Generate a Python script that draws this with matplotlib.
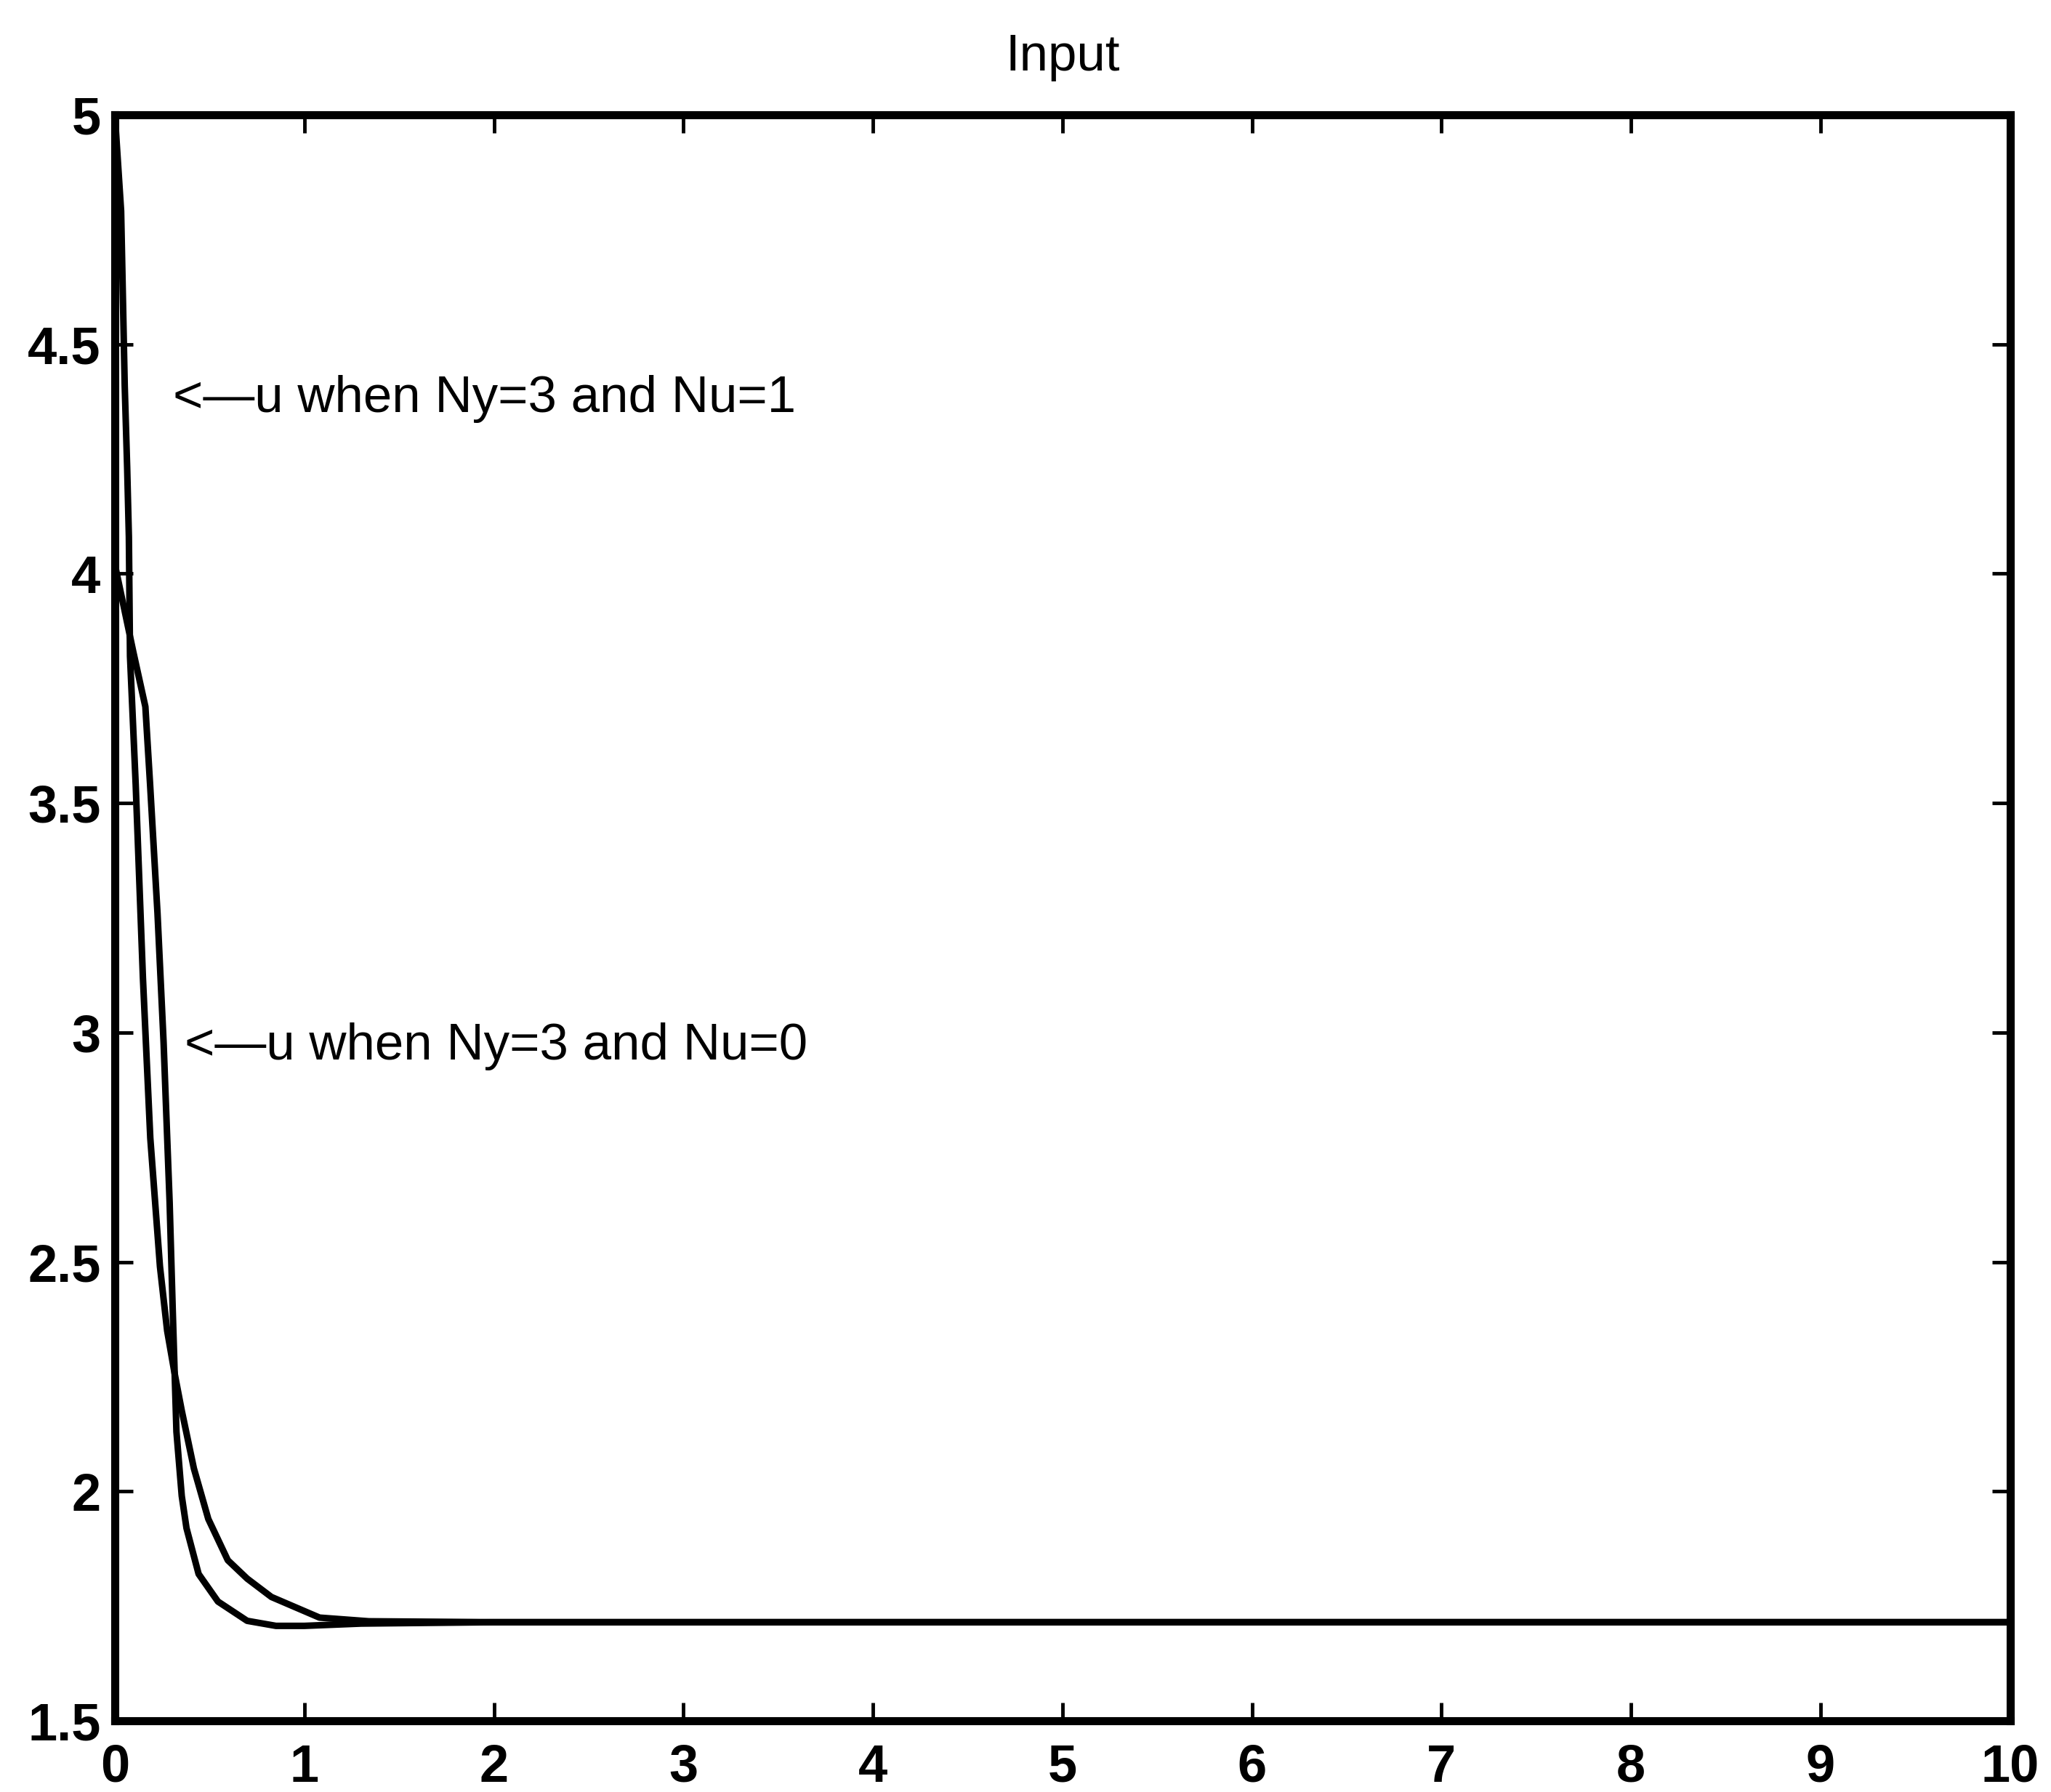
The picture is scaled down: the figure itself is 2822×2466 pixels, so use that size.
import matplotlib
matplotlib.use("Agg")
import matplotlib.pyplot as plt
from matplotlib import font_manager

# u when Ny=3 and Nu=1 (starts at 5)
t_nu1 = [0.0, 0.033, 0.052, 0.065, 0.074, 0.08, 0.11, 0.148, 0.187, 0.238,
         0.276, 0.314, 0.353, 0.417, 0.493, 0.596, 0.698, 0.826, 1.08, 1.34, 2.0, 10.0]
u_nu1 = [5.0, 4.79, 4.41, 4.23, 4.08, 3.82, 3.54, 3.12, 2.77, 2.49,
         2.35, 2.26, 2.176, 2.05, 1.94, 1.85, 1.81, 1.77, 1.725, 1.717, 1.715, 1.715]

# u when Ny=3 and Nu=0 (starts near 4)
t_nu0 = [0.0, 0.097, 0.161, 0.186, 0.225, 0.257, 0.289, 0.305, 0.325, 0.353,
         0.378, 0.442, 0.544, 0.698, 0.85, 1.0, 1.3, 2.0, 10.0]
u_nu0 = [4.02, 3.83, 3.71, 3.54, 3.26, 2.98, 2.63, 2.40, 2.13, 1.99,
         1.92, 1.82, 1.76, 1.718, 1.707, 1.707, 1.712, 1.715, 1.715]

xticks = list(range(0, 11))
yticks = [1.5, 2, 2.5, 3, 3.5, 4, 4.5, 5]
ytick_labels = ["1.5", "2", "2.5", "3", "3.5", "4", "4.5", "5"]

names = {f.name for f in font_manager.fontManager.ttflist}
if "Liberation Sans Narrow" in names:
    fam = "Liberation Sans Narrow"
    fs, fs_txt = 62, 62
else:
    fam = "Liberation Sans"
    fs, fs_txt = 52, 51
plt.rcParams["font.family"] = [fam, "DejaVu Sans"]

fig = plt.figure(figsize=(28.22, 24.66), dpi=100)
ax = fig.add_axes([0.056, 0.0397, 0.924, 0.8963])

ax.plot(t_nu1, u_nu1, color="black", lw=6.5, solid_joinstyle="round")
ax.plot(t_nu0, u_nu0, color="black", lw=6.5, solid_joinstyle="round")

ax.set_xlim(0, 10)
ax.set_ylim(1.5, 5)
ax.set_xticks(xticks)
ax.set_yticks(yticks)
ax.set_yticklabels(ytick_labels)
ax.tick_params(direction="in", length=18, width=3.5, top=True, right=True,
               labelsize=fs, pad=14)
ax.tick_params(axis="x", pad=22)
for lab in ax.get_xticklabels() + ax.get_yticklabels():
    lab.set_fontweight("bold")
for sp in ax.spines.values():
    sp.set_linewidth(8)

ax.text(0.307, 4.38, "<\u2014u when Ny=3 and Nu=1", fontsize=fs_txt, va="center", ha="left")
ax.text(0.368, 2.97, "<\u2014u when Ny=3 and Nu=0", fontsize=fs_txt, va="center", ha="left")
ax.set_title("Input", fontsize=fs_txt, pad=44)

fig.savefig("out.png", dpi=100)
